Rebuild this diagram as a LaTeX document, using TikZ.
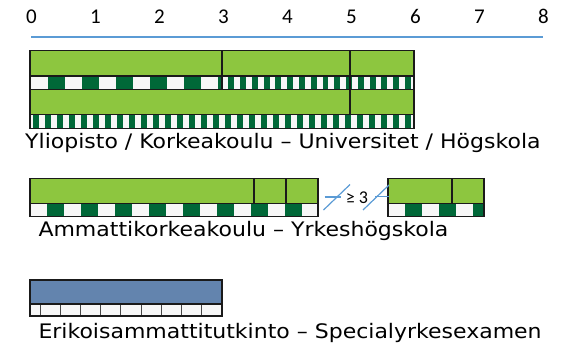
\documentclass[tikz,border=0pt]{standalone}
\usepackage{fontspec}
\setmainfont{DejaVu Sans}
\newfontfamily\widefont[FakeStretch=1.1]{DejaVu Sans}
\newfontfamily\calibri{Carlito}
\definecolor{lgreen}{HTML}{8DC63F}
\definecolor{dgreen}{HTML}{006838}
\definecolor{offw}{HTML}{F7F7F7}
\definecolor{bbox}{HTML}{6384AE}
\definecolor{axisblue}{HTML}{5B9BD5}
\definecolor{edge}{HTML}{1A1A1A}
\tikzset{
  greenrow/.style={fill=lgreen,draw=edge,line width=1.2pt},
  bluerow/.style={fill=bbox,draw=edge,line width=1.2pt},
  darkseg/.style={fill=dgreen},
  digit/.style={font=\calibri\fontsize{21}{24}\selectfont,anchor=base,inner sep=0pt},
  label/.style={font=\widefont\fontsize{20}{22}\selectfont,anchor=base west,inner sep=0pt},
  breakline/.style={draw=axisblue,line width=1.2pt},
  divider/.style={draw=edge,line width=1.3pt},
  cellline/.style={draw=edge!80,line width=0.9pt}
}
\begin{document}
\begin{tikzpicture}[x=1pt,y=-1pt]
\useasboundingbox (0,0) rectangle (569,346);
% axis
\foreach \i in {0,...,8} \node[digit] (n\i) at ({31.5+64*\i},23) {\i};
\coordinate (axL) at (31,37.3);
\coordinate (axR) at (543,37.3);
\draw[axisblue,line width=2pt] (axL) -- (axR);

% ---------- Block 1 ----------
\path[greenrow] (30,50.7) rectangle (414,76);
\path[greenrow] (30,89.3) rectangle (414,114.3);
% strip 1
\path[fill=offw] (30,76) rectangle (414,89.3);
\begin{scope}
\clip (30,76) rectangle (222,89.3);
\foreach \k in {0,...,5} \path[darkseg] ({47.7+34*\k},76) rectangle ({64.7+34*\k},89.3);
\end{scope}
\begin{scope}
\clip (222,76) rectangle (414,89.3);
\foreach \k in {0,...,16} \path[darkseg] ({228.3+11.78*\k},76) rectangle ({234.2+11.78*\k},89.3);
\end{scope}
\draw[edge,line width=1.2pt] (30,76) rectangle (414,89.3);
% strip 2
\path[fill=offw] (30,114.3) rectangle (414,128.3);
\begin{scope}
\clip (30,114.3) rectangle (414,128.3);
\foreach \k in {0,...,32} \path[darkseg] ({33.3+12*\k},114.3) rectangle ({39.2+12*\k},128.3);
\end{scope}
\draw[edge,line width=1.2pt] (30,114.3) rectangle (414,128.3);
\draw[divider] (222,50.7) -- (222,89.3);
\draw[divider] (350,50.7) -- (350,114.3);

\node[label] (l1) at (25,148.5) {Yliopisto / Korkeakoulu – Universitet / Högskola};

% ---------- Block 2 ----------
\path[greenrow] (30,178.3) rectangle (318,203.3);
\draw[divider] (254,178.3) -- (254,203.3);
\draw[divider] (286,178.3) -- (286,203.3);
\path[fill=offw] (30,203.3) rectangle (318,216.7);
\begin{scope}
\clip (30,203.3) rectangle (318,216.7);
\foreach \k in {0,...,8} \path[darkseg] ({47.3+34*\k},203.3) rectangle ({64.3+34*\k},216.7);
\end{scope}
\draw[edge,line width=1.2pt] (30,203.3) rectangle (318,216.7);

\path[greenrow] (388,178.3) rectangle (484,203.3);
\draw[divider] (452,178.3) -- (452,203.3);
\path[fill=offw] (388,203.3) rectangle (484,216.7);
\begin{scope}
\clip (388,203.3) rectangle (484,216.7);
\foreach \k in {0,...,2} \path[darkseg] ({405+34*\k},203.3) rectangle ({422+34*\k},216.7);
\end{scope}
\draw[edge,line width=1.2pt] (388,203.3) rectangle (484,216.7);

% break marks
\coordinate (b1a) at (323.5,210);
\coordinate (b1b) at (350,184.5);
\coordinate (b1c) at (324.5,197);
\coordinate (b1d) at (341,197);
\coordinate (b2a) at (363,210);
\coordinate (b2b) at (389,185);
\coordinate (b2c) at (375,196.5);
\coordinate (b2d) at (389,196.5);
\draw[breakline] (b1a) -- (b1b);
\draw[breakline] (b1c) -- (b1d);
\draw[breakline] (b2a) -- (b2b);
\draw[breakline] (b2c) -- (b2d);
\node[font=\calibri\fontsize{18}{20}\selectfont,anchor=base,inner sep=0pt] (ge) at (357,203.5) {≥ 3};

\node[label] (l2) at (38.3,236.9) {Ammattikorkeakoulu – Yrkeshögskola};

% ---------- Block 3 ----------
\path[bluerow] (30,280) rectangle (222,304);
\path[fill=offw] (30,304) rectangle (222,316);
\foreach \k in {0,...,8} \draw[cellline] ({40+20.22*\k},304) -- ({40+20.22*\k},316);
\draw[edge,line width=1.2pt] (30,304) rectangle (222,316);

\node[label] (l3) at (38.3,338.5) {Erikoisammattitutkinto – Specialyrkesexamen};
\end{tikzpicture}
\end{document}
